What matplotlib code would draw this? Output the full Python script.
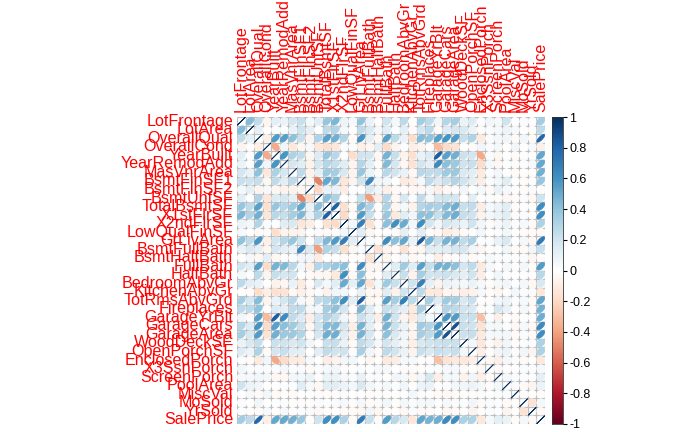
import numpy as np
import matplotlib
matplotlib.use('Agg')
import matplotlib.pyplot as plt
from matplotlib.colors import LinearSegmentedColormap
from matplotlib.collections import PolyCollection

variables = ['LotFrontage', 'LotArea', 'OverallQual', 'OverallCond', 'YearBuilt',
             'YearRemodAdd', 'MasVnrArea', 'BsmtFinSF1', 'BsmtFinSF2', 'BsmtUnfSF',
             'TotalBsmtSF', 'X1stFlrSF', 'X2ndFlrSF', 'LowQualFinSF', 'GrLivArea',
             'BsmtFullBath', 'BsmtHalfBath', 'FullBath', 'HalfBath', 'BedroomAbvGr',
             'KitchenAbvGr', 'TotRmsAbvGrd', 'Fireplaces', 'GarageYrBlt', 'GarageCars',
             'GarageArea', 'WoodDeckSF', 'OpenPorchSF', 'EnclosedPorch', 'X3SsnPorch',
             'ScreenPorch', 'PoolArea', 'MiscVal', 'MoSold', 'YrSold', 'SalePrice']

# lower triangle of the correlation matrix, row i = corr with variables 0..i-1
corr_lower = [
    [],
    [0.43],
    [0.25, 0.11],
    [-0.06, -0.01, -0.09],
    [0.12, 0.01, 0.57, -0.38],
    [0.09, 0.01, 0.55, 0.07, 0.59],
    [0.19, 0.10, 0.41, -0.13, 0.32, 0.18],
    [0.23, 0.21, 0.24, -0.05, 0.25, 0.13, 0.26],
    [0.05, 0.11, -0.06, 0.04, -0.05, -0.07, -0.07, -0.05],
    [0.13, -0.00, 0.31, -0.14, 0.15, 0.18, 0.11, -0.50, -0.21],
    [0.39, 0.26, 0.54, -0.17, 0.39, 0.29, 0.36, 0.52, 0.10, 0.42],
    [0.46, 0.30, 0.48, -0.14, 0.28, 0.24, 0.34, 0.45, 0.10, 0.32, 0.82],
    [0.08, 0.05, 0.30, 0.03, 0.01, 0.14, 0.17, -0.14, -0.10, 0.00, -0.17, -0.20],
    [0.04, 0.00, -0.03, 0.03, -0.18, -0.06, -0.07, -0.06, 0.01, 0.03, -0.03, -0.01, 0.06],
    [0.40, 0.26, 0.59, -0.08, 0.20, 0.29, 0.39, 0.21, -0.01, 0.24, 0.45, 0.57, 0.69, 0.13],
    [0.10, 0.16, 0.11, -0.05, 0.19, 0.12, 0.09, 0.65, 0.16, -0.42, 0.31, 0.24, -0.17, -0.05, 0.03],
    [-0.01, 0.05, -0.04, 0.12, -0.04, -0.01, 0.03, 0.07, 0.07, -0.10, -0.00, 0.00, -0.02, -0.01,
     -0.02, -0.15],
    [0.20, 0.13, 0.55, -0.19, 0.47, 0.44, 0.28, 0.06, -0.08, 0.29, 0.32, 0.38, 0.42, -0.00,
     0.63, -0.06, -0.05],
    [0.05, 0.01, 0.27, -0.06, 0.24, 0.18, 0.20, 0.00, -0.03, -0.04, -0.05, -0.12, 0.61, -0.03,
     0.42, -0.03, -0.01, 0.14],
    [0.27, 0.12, 0.10, 0.01, -0.07, -0.04, 0.10, -0.11, -0.02, 0.17, 0.05, 0.13, 0.50, 0.11,
     0.52, -0.15, 0.05, 0.36, 0.23],
    [-0.01, -0.02, -0.18, -0.09, -0.17, -0.15, -0.04, -0.08, -0.04, 0.03, -0.07, 0.07, 0.06, 0.01,
     0.10, -0.04, -0.04, 0.13, -0.07, 0.20],
    [0.35, 0.19, 0.43, -0.06, 0.10, 0.19, 0.28, 0.04, -0.04, 0.25, 0.29, 0.41, 0.62, 0.13,
     0.83, -0.05, -0.02, 0.55, 0.34, 0.68, 0.26],
    [0.27, 0.27, 0.40, -0.02, 0.15, 0.11, 0.25, 0.26, 0.05, 0.05, 0.34, 0.41, 0.19, -0.02,
     0.46, 0.14, 0.03, 0.24, 0.20, 0.11, -0.12, 0.33],
    [0.07, -0.02, 0.55, -0.32, 0.83, 0.64, 0.25, 0.15, -0.09, 0.19, 0.32, 0.23, 0.07, -0.04,
     0.23, 0.12, -0.08, 0.48, 0.20, -0.06, -0.12, 0.15, 0.05],
    [0.29, 0.15, 0.60, -0.19, 0.54, 0.42, 0.36, 0.22, -0.04, 0.21, 0.43, 0.44, 0.18, -0.09,
     0.47, 0.13, -0.02, 0.47, 0.22, 0.09, -0.05, 0.36, 0.30, 0.59],
    [0.34, 0.18, 0.56, -0.15, 0.48, 0.37, 0.37, 0.30, -0.02, 0.18, 0.49, 0.49, 0.14, -0.07,
     0.47, 0.18, -0.02, 0.41, 0.16, 0.07, -0.06, 0.34, 0.27, 0.56, 0.88],
    [0.09, 0.17, 0.24, -0.00, 0.22, 0.21, 0.16, 0.20, 0.07, -0.01, 0.23, 0.24, 0.09, -0.03,
     0.25, 0.18, 0.04, 0.19, 0.11, 0.05, -0.09, 0.17, 0.20, 0.22, 0.23, 0.22],
    [0.15, 0.08, 0.31, -0.03, 0.19, 0.23, 0.13, 0.11, 0.00, 0.13, 0.25, 0.21, 0.21, 0.02,
     0.33, 0.07, -0.03, 0.26, 0.20, 0.09, -0.07, 0.23, 0.17, 0.23, 0.21, 0.24, 0.06],
    [0.01, -0.02, -0.11, 0.07, -0.39, -0.19, -0.11, -0.10, 0.04, -0.00, -0.10, -0.07, 0.06, 0.06,
     0.01, -0.05, -0.01, -0.12, -0.10, 0.04, 0.04, 0.00, -0.02, -0.30, -0.15, -0.12, -0.13, -0.09],
    [0.07, 0.02, 0.03, 0.03, 0.03, 0.05, 0.02, 0.03, -0.03, 0.02, 0.04, 0.06, -0.02, -0.00,
     0.02, -0.00, 0.04, 0.04, -0.00, -0.02, -0.02, -0.01, 0.01, 0.02, 0.04, 0.04, -0.03, -0.01,
     -0.04],
    [0.04, 0.04, 0.06, 0.05, -0.05, -0.04, 0.06, 0.06, 0.09, -0.01, 0.08, 0.09, 0.04, 0.03,
     0.10, 0.02, 0.03, -0.01, 0.07, 0.04, -0.05, 0.06, 0.18, -0.08, 0.05, 0.05, -0.07, 0.07,
     -0.08, -0.03],
    [0.21, 0.08, 0.07, -0.00, 0.00, 0.01, 0.01, 0.14, 0.04, -0.04, 0.13, 0.13, 0.08, 0.06,
     0.17, 0.07, 0.02, 0.05, 0.02, 0.07, -0.01, 0.08, 0.10, -0.01, 0.02, 0.06, 0.07, 0.08,
     0.05, -0.01, 0.05],
    [0.00, 0.04, -0.03, 0.07, -0.03, -0.01, -0.03, 0.00, 0.00, -0.02, -0.02, -0.02, 0.02, -0.00,
     -0.00, -0.02, -0.01, -0.01, 0.00, 0.01, 0.06, 0.02, 0.00, -0.03, -0.04, -0.03, -0.01, -0.02,
     0.02, 0.00, 0.03, 0.03],
    [0.03, 0.00, 0.07, -0.00, 0.01, 0.02, -0.01, -0.02, -0.02, 0.03, 0.01, 0.03, 0.04, -0.02,
     0.05, -0.03, 0.03, 0.06, -0.01, 0.05, 0.03, 0.04, 0.05, 0.01, 0.04, 0.03, 0.02, 0.07,
     -0.03, 0.03, 0.02, -0.03, -0.01],
    [0.01, -0.01, -0.03, 0.04, -0.01, 0.04, -0.01, 0.01, 0.03, -0.04, -0.01, -0.01, -0.03, -0.03,
     -0.04, 0.07, -0.05, -0.02, -0.01, -0.04, 0.03, -0.03, -0.02, -0.00, -0.04, -0.03, 0.02, -0.06,
     -0.01, 0.02, 0.01, -0.06, 0.00, -0.15],
    [0.35, 0.26, 0.79, -0.08, 0.52, 0.51, 0.48, 0.39, -0.01, 0.21, 0.61, 0.61, 0.32, -0.03,
     0.71, 0.23, -0.02, 0.56, 0.28, 0.17, -0.14, 0.53, 0.47, 0.49, 0.64, 0.62, 0.32, 0.32,
     -0.13, 0.04, 0.11, 0.09, -0.02, 0.05, -0.03],
]

colorbar_ticks = [-1, -0.8, -0.6, -0.4, -0.2, 0, 0.2, 0.4, 0.6, 0.8, 1]

n = len(variables)
corr = np.eye(n)
for i, row in enumerate(corr_lower):
    for j, v in enumerate(row):
        corr[i, j] = v
        corr[j, i] = v

# corrplot RdBu palette
cmap = LinearSegmentedColormap.from_list('RdBu_corr', [
    '#67001F', '#B2182B', '#D6604D', '#F4A582', '#FDDBC7', '#FFFFFF',
    '#D1E5F0', '#92C5DE', '#4393C3', '#2166AC', '#053061'])

W, H = 700, 432
fig = plt.figure(figsize=(W / 100, H / 100), dpi=100)
fig.patch.set_facecolor('white')

gx0, gx1, gy0, gy1 = 237, 545, 117, 424
ax = fig.add_axes([gx0 / W, 1 - gy1 / H, (gx1 - gx0) / W, (gy1 - gy0) / H])
ax.set_xlim(0, n)
ax.set_ylim(n, 0)
ax.axis('off')

# grid
for k in range(n + 1):
    ax.plot([k, k], [0, n], color='#BEBEBE', lw=0.9, zorder=1, solid_capstyle='butt')
    ax.plot([0, n], [k, k], color='#BEBEBE', lw=0.9, zorder=1, solid_capstyle='butt')

# ellipses (corrplot style)
t = np.linspace(0, 2 * np.pi, 60)
polys, cols = [], []
for i in range(n):
    for j in range(n):
        r = corr[i, j]
        d = np.arccos(np.clip(r, -1, 1))
        ex = 0.45 * np.cos(t + d / 2)
        ey = 0.45 * np.cos(t - d / 2)
        polys.append(np.column_stack([j + 0.5 + ex, i + 0.5 - ey]))
        cols.append(cmap((r + 1) / 2))
pc = PolyCollection(polys, facecolors=cols, edgecolors=cols, linewidths=0.6, zorder=2)
ax.add_collection(pc)

label_font = dict(color='red', fontsize=11.6, family='Liberation Sans')
for k, name in enumerate(variables):
    ax.text(-0.45, k + 0.5, name, ha='right', va='center', clip_on=False, **label_font)
    ax.text(k + 0.5, -0.6, name, ha='center', va='bottom', rotation=90,
            clip_on=False, **label_font)

# colorbar
cax = fig.add_axes([552 / W, 1 - gy1 / H, 11 / W, (gy1 - gy0) / H])
grad = np.linspace(-1, 1, 200).reshape(-1, 1)
cax.imshow(grad, cmap=cmap, aspect='auto', origin='lower', extent=[0, 1, -1, 1],
           vmin=-1, vmax=1)
cax.set_xlim(0, 1)
cax.set_ylim(-1, 1)
cax.set_xticks([])
cax.yaxis.tick_right()
cax.set_yticks(colorbar_ticks)
cax.set_yticklabels(['%g' % v for v in colorbar_ticks], family='Liberation Sans', fontsize=9)
cax.tick_params(axis='y', length=3, width=0.8, pad=1.5)
for s in cax.spines.values():
    s.set_linewidth(0.6)
    s.set_color('#333333')

fig.savefig('out.png', dpi=100)
